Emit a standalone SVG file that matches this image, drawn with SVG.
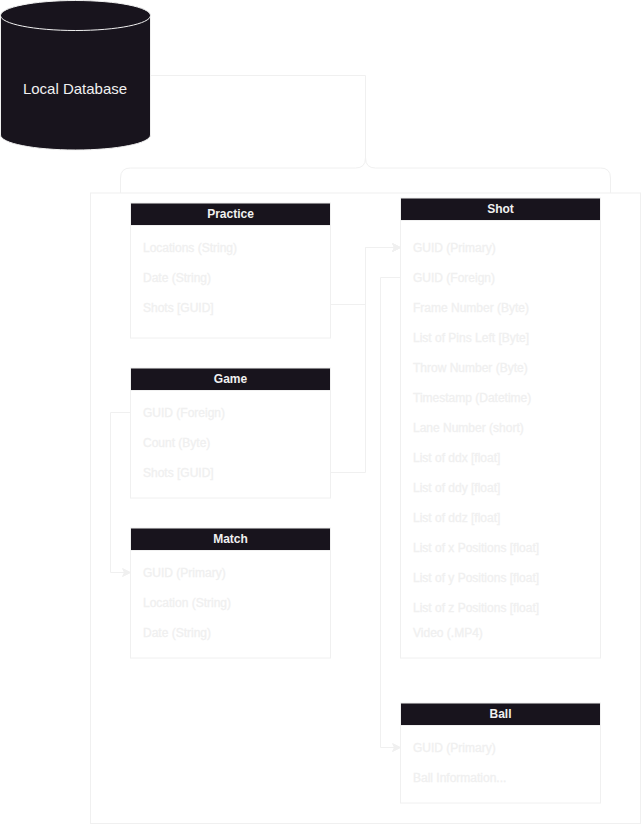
<svg xmlns="http://www.w3.org/2000/svg" width="641" height="832" viewBox="0 0 641 832">
<style>
.ln{fill:none;stroke:#f0f0f0;stroke-width:1}
.box{fill:#fff;stroke:#f0f0f0;stroke-width:1}
.hd{fill:#18141d;stroke:#f0f0f0;stroke-width:1}
.t{font-family:"Liberation Sans",Arial,sans-serif;font-size:12px;fill:#f0f0f0;stroke:#f0f0f0;stroke-width:0.3}
.h{font-family:"Liberation Sans",Arial,sans-serif;font-size:12px;font-weight:bold;fill:#f0f0f0;text-anchor:middle}
</style>
<defs>
<marker id="arr" markerUnits="userSpaceOnUse" markerWidth="10" markerHeight="10" refX="8.500" refY="5" orient="auto">
<path d="M0.500 1L8.500 5L0.500 9L2.500 5Z" fill="#f0f0f0" stroke="#f0f0f0"/>
</marker>
</defs>
<rect x="0" y="0" width="641" height="832" fill="#fff"/>
<g id="container"><rect class="box" x="90.500" y="193" width="550" height="630.500"/></g>
<g id="connectors">
<path class="ln" d="M150.500 75.500H365.500V158Q365.500 168 355.500 168H130.500Q120.500 168 120.500 178V193"/>
<path class="ln" d="M365.500 158Q365.500 168 375.500 168H600.500Q610.500 168 610.500 178V193"/>
<path class="ln" d="M330.500 304.500H365.500V247.500H400.500" marker-end="url(#arr)"/>
<path class="ln" d="M330.500 472.500H365.500V247.500H400.500" marker-end="url(#arr)"/>
<path class="ln" d="M130.500 412.500H110.500V572.500H130.500" marker-end="url(#arr)"/>
<path class="ln" d="M400.500 277.500H380.500V747.500H400.500" marker-end="url(#arr)"/>
</g>
<g id="db">
<path d="M0.500 15.500C0.500 7.200 34 0.500 75.500 0.500S150.500 7.200 150.500 15.500V135C150.500 143.300 117 150 75.500 150S0.500 143.300 0.500 135Z" fill="#18141d" stroke="#f0f0f0"/>
<path d="M0.500 15.500C0.500 23.800 34 30.500 75.500 30.500S150.500 23.800 150.500 15.500" fill="none" stroke="#f0f0f0"/>
<text x="75" y="93.500" font-family="'Liberation Sans',Arial,sans-serif" font-size="15" fill="#f0f0f0" text-anchor="middle">Local Database</text>
</g>
<g id="practice">
<rect class="box" x="130.500" y="203.500" width="200" height="134.500"/>
<rect class="hd" x="130.500" y="203" width="200" height="22.500"/>
<text class="h" x="230.500" y="218">Practice</text>
<text class="t" x="143" y="252">Locations (String)</text>
<text class="t" x="143" y="282">Date (String)</text>
<text class="t" x="143" y="312">Shots [GUID]</text>
</g>
<g id="game">
<rect class="box" x="130.500" y="368.500" width="200" height="129.500"/>
<rect class="hd" x="130.500" y="368" width="200" height="22.500"/>
<text class="h" x="230.500" y="383">Game</text>
<text class="t" x="143" y="417">GUID (Foreign)</text>
<text class="t" x="143" y="447">Count (Byte)</text>
<text class="t" x="143" y="477">Shots [GUID]</text>
</g>
<g id="match">
<rect class="box" x="130.500" y="528.500" width="200" height="129.500"/>
<rect class="hd" x="130.500" y="528" width="200" height="22.500"/>
<text class="h" x="230.500" y="543">Match</text>
<text class="t" x="143" y="577">GUID (Primary)</text>
<text class="t" x="143" y="607">Location (String)</text>
<text class="t" x="143" y="637">Date (String)</text>
</g>
<g id="shot">
<rect class="box" x="400.500" y="198.500" width="200" height="459.500"/>
<rect class="hd" x="400.500" y="198" width="200" height="22.500"/>
<text class="h" x="500.500" y="213">Shot</text>
<text class="t" x="413" y="252">GUID (Primary)</text>
<text class="t" x="413" y="282">GUID (Foreign)</text>
<text class="t" x="413" y="312">Frame Number (Byte)</text>
<text class="t" x="413" y="342">List of Pins Left [Byte]</text>
<text class="t" x="413" y="372">Throw Number (Byte)</text>
<text class="t" x="413" y="402">Timestamp (Datetime)</text>
<text class="t" x="413" y="432">Lane Number (short)</text>
<text class="t" x="413" y="462">List of ddx [float]</text>
<text class="t" x="413" y="492">List of ddy [float]</text>
<text class="t" x="413" y="522">List of ddz [float]</text>
<text class="t" x="413" y="552">List of x Positions [float]</text>
<text class="t" x="413" y="582">List of y Positions [float]</text>
<text class="t" x="413" y="612">List of z Positions [float]</text>
<text class="t" x="413" y="637">Video (.MP4)</text>
</g>
<g id="ball">
<rect class="box" x="400.500" y="703.500" width="200" height="99.500"/>
<rect class="hd" x="400.500" y="703" width="200" height="22.500"/>
<text class="h" x="500.500" y="718">Ball</text>
<text class="t" x="413" y="752">GUID (Primary)</text>
<text class="t" x="413" y="782">Ball Information...</text>
</g>
</svg>
